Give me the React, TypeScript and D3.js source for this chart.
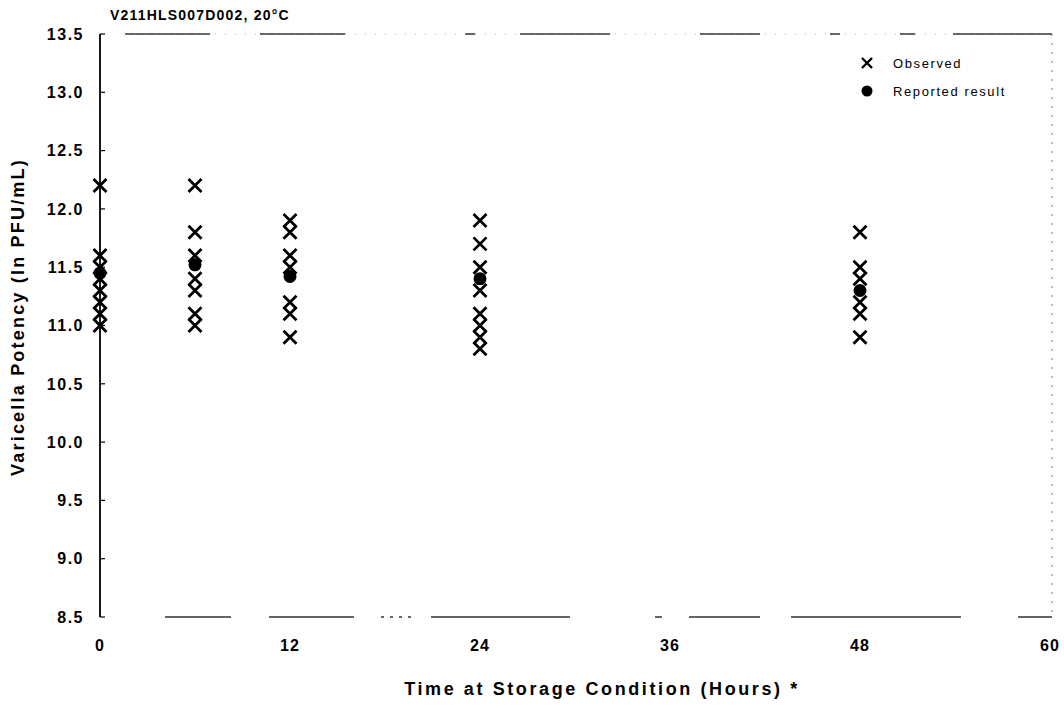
import React from "react";
import * as d3 from "d3";

const chartTitle = "V211HLS007D002, 20°C";
const xTicks = [0, 12, 24, 36, 48, 60];
const yTicks = [8.5, 9.0, 9.5, 10.0, 10.5, 11.0, 11.5, 12.0, 12.5, 13.0, 13.5];

const obsHours0 = [12.2, 11.6, 11.5, 11.4, 11.3, 11.2, 11.1, 11.0];
const obsHours6 = [12.2, 11.8, 11.6, 11.4, 11.3, 11.1, 11.0];
const obsHours12 = [11.9, 11.8, 11.6, 11.5, 11.2, 11.1, 10.9];
const obsHours24 = [11.9, 11.7, 11.5, 11.3, 11.1, 11.0, 10.9, 10.8];
const obsHours48 = [11.8, 11.5, 11.4, 11.2, 11.1, 10.9];

const timePoints = [0, 6, 12, 24, 48];
const reported = [11.45, 11.52, 11.42, 11.4, 11.3];

const observedSets = [obsHours0, obsHours6, obsHours12, obsHours24, obsHours48];

const W = 1064;
const H = 709;
const FONT = "'Liberation Sans', Arial, Helvetica, sans-serif";

export default function App() {
  const x = d3.scaleLinear().domain([0, 60]).range([100, 1050]);
  const y = d3.scaleLinear().domain([8.5, 13.5]).range([617, 34]);

  const observed = observedSets.flatMap((vals, i) =>
    vals.map((v) => ({ t: timePoints[i], v }))
  );
  const xPath = (cx: number, cy: number, s: number) =>
    `M${cx - s},${cy - s}L${cx + s},${cy + s}M${cx - s},${cy + s}L${cx + s},${cy - s}`;

  const [x0, x1] = x.range();
  const [yb, yt] = y.range();

  return (
    <svg
      width={W}
      height={H}
      style={{ position: "absolute", left: 0, top: 0, background: "#fff" }}
      fontFamily={FONT}
    >
      {/* frame: broken top/bottom (scan artefacts), faint dotted right */}
      <line x1={125} x2={x1 + 2} y1={yt} y2={yt} stroke="#333" strokeWidth={1.6}
        strokeDasharray="85 50 85 120 10 45 90 90 60 70 10 60 15 38 100 0" />
      <line x1={125} x2={x1 + 2} y1={yt} y2={yt} stroke="#999" strokeWidth={0.8}
        strokeDasharray="1 9" />
      <line x1={165} x2={x1 + 2} y1={yb} y2={yb} stroke="#333" strokeWidth={1.6}
        strokeDasharray="66 38 85 27 3 6 3 6 3 6 3 20 139 85 7 27 71 31 170 57 11 0" />
      <line x1={x1 + 2} x2={x1 + 2} y1={yt} y2={yb} stroke="#777" strokeWidth={1} strokeDasharray="2 7" />
      {/* y axis */}
      <line x1={x0} x2={x0} y1={yt} y2={yb} stroke="#000" strokeWidth={1.8} />
      {yTicks.map((t) => (
        <g key={t}>
          <line x1={x0} x2={x0 + 5} y1={y(t)} y2={y(t)} stroke="#000" strokeWidth={1.2} />
          <text x={84} y={y(t)} dy="0.36em" textAnchor="end" fontSize={16} fontWeight="bold" letterSpacing={1.5}>
            {d3.format(".1f")(t)}
          </text>
        </g>
      ))}
      {xTicks.map((t) => (
        <text key={t} x={x(t)} y={651} textAnchor="middle" fontSize={16} fontWeight="bold" letterSpacing={1}>
          {t}
        </text>
      ))}
      {/* titles */}
      <text x={110} y={20} fontSize={14} fontWeight="bold" letterSpacing={1.2}>{chartTitle}</text>
      <text x={602} y={695} textAnchor="middle" fontSize={18} fontWeight="bold" letterSpacing={2.6}>
        Time at Storage Condition (Hours) *
      </text>
      <text
        transform={`translate(24, 317) rotate(-90)`}
        textAnchor="middle"
        fontSize={18}
        fontWeight="bold"
        letterSpacing={2.2}
      >
        Varicella Potency (ln PFU/mL)
      </text>
      {/* data */}
      {reported.map((v, i) => (
        <circle key={"r" + i} cx={x(timePoints[i])} cy={y(v)} r={6.5} fill="#000" />
      ))}
      {observed.map((d, i) => (
        <path key={"o" + i} d={xPath(x(d.t), y(d.v), 6.5)} stroke="#000" strokeWidth={2.8} fill="none" />
      ))}
      {/* legend */}
      <path d={xPath(867, 63, 5)} stroke="#000" strokeWidth={2.4} fill="none" />
      <text x={893} y={63} dy="0.36em" fontSize={13} letterSpacing={1.6}>Observed</text>
      <circle cx={867} cy={91} r={5.5} fill="#000" />
      <text x={893} y={91} dy="0.36em" fontSize={13} letterSpacing={1.6}>Reported result</text>
    </svg>
  );
}
